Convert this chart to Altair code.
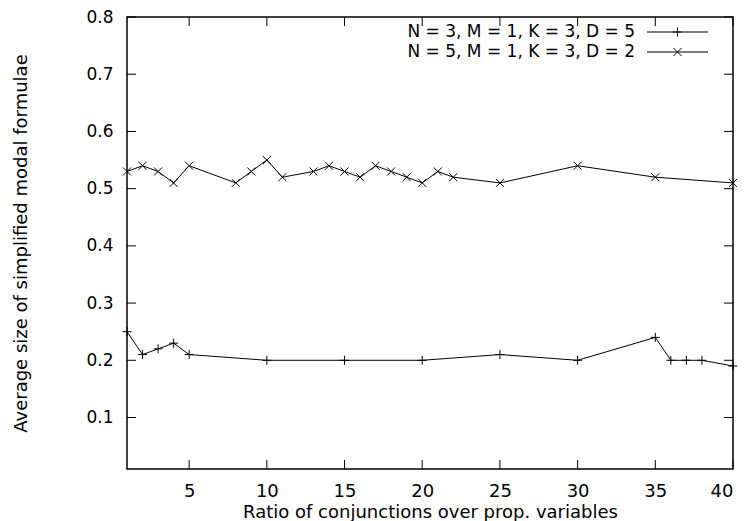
import altair as alt
import pandas as pd

# ---- data ----
s1_label = "N = 3, M = 1, K = 3, D = 5"
s1_x = [1, 2, 3, 4, 5, 10, 15, 20, 25, 30, 35, 36, 37, 38, 40]
s1_y = [0.25, 0.21, 0.22, 0.23, 0.21, 0.20, 0.20, 0.20, 0.21, 0.20, 0.24, 0.20, 0.20, 0.20, 0.19]

s2_label = "N = 5, M = 1, K = 3, D = 2"
s2_x = [1, 2, 3, 4, 5, 8, 9, 10, 11, 13, 14, 15, 16, 17, 18, 19, 20, 21, 22, 25, 30, 35, 40]
s2_y = [0.53, 0.54, 0.53, 0.51, 0.54, 0.51, 0.53, 0.55, 0.52, 0.53, 0.54, 0.53, 0.52, 0.54,
        0.53, 0.52, 0.51, 0.53, 0.52, 0.51, 0.54, 0.52, 0.51]

x_ticks = [5, 10, 15, 20, 25, 30, 35, 40]
y_ticks = [0.1, 0.2, 0.3, 0.4, 0.5, 0.6, 0.7, 0.8]

x_title = "Ratio of conjunctions over prop. variables"
y_title = "Average size of simplified modal formulae"

# ---- layout / style ----
W, H = 606, 452
FONT = "DejaVu Sans"
FS = 18
YFS = 17
LFS = 17
TICK = 9
PLUS = "M-1,0L1,0M0,-1L0,1"
CROSS = "M-1,-1L1,1M-1,1L1,-1"

xs = alt.Scale(domain=[1, 40], nice=False, zero=False)
ys = alt.Scale(domain=[0.01, 0.8], nice=False, zero=False)

x_axis = alt.Axis(values=x_ticks, grid=False, domain=False, ticks=False,
                  labelFont=FONT, labelFontSize=FS, labelColor="black", labelPadding=13,
                  title=x_title, titleFont=FONT, titleFontSize=FS, titleFontWeight="normal",
                  titleColor="black", titleBaseline="alphabetic", titleY=48)
y_axis = alt.Axis(values=y_ticks, grid=False, domain=False, ticks=False, format=".1f",
                  labelFont=FONT, labelFontSize=YFS, labelColor="black", labelPadding=14,
                  title=y_title, titleFont=FONT, titleFontSize=FS, titleFontWeight="normal",
                  titleColor="black", titleBaseline="alphabetic", titleX=-101)

def X(field):
    return alt.X(field, type="quantitative", scale=xs, axis=x_axis)

def Y(field):
    return alt.Y(field, type="quantitative", scale=ys, axis=y_axis)

df1 = pd.DataFrame({"x": s1_x, "y": s1_y})
df2 = pd.DataFrame({"x": s2_x, "y": s2_y})

def series(df, shape, size):
    line = alt.Chart(df).mark_line(color="black", strokeWidth=1).encode(x=X("x"), y=Y("y"))
    pts = alt.Chart(df).mark_point(shape=shape, size=size, filled=False, stroke="black",
                                   strokeWidth=1, opacity=1).encode(x=X("x"), y=Y("y"))
    return [line, pts]

# inward ticks on all four sides (gnuplot style)
ydf = pd.DataFrame({"y": y_ticks})
xdf = pd.DataFrame({"x": x_ticks})
tick_layers = [
    alt.Chart(ydf).mark_rule(color="black", strokeWidth=1).encode(
        y=Y("y"), x=alt.value(0), x2=alt.value(TICK)),
    alt.Chart(ydf).mark_rule(color="black", strokeWidth=1).encode(
        y=Y("y"), x=alt.value(W - TICK), x2=alt.value(W)),
    alt.Chart(xdf).mark_rule(color="black", strokeWidth=1).encode(
        x=X("x"), y=alt.value(H - TICK), y2=alt.value(H)),
    alt.Chart(xdf).mark_rule(color="black", strokeWidth=1).encode(
        x=X("x"), y=alt.value(0), y2=alt.value(TICK)),
]

# legend (top right, inside the plot)
one = pd.DataFrame({"a": [0]})
def legend_entry(label, shape, size, ypos):
    txt = alt.Chart(one).mark_text(align="right", baseline="middle", font=FONT,
                                   fontSize=LFS, color="black").encode(
        x=alt.value(508), y=alt.value(ypos), text=alt.value(label))
    ln = alt.Chart(one).mark_rule(color="black", strokeWidth=1).encode(
        x=alt.value(520), x2=alt.value(581), y=alt.value(ypos))
    pt = alt.Chart(one).mark_point(shape=shape, size=size, filled=False, stroke="black",
                                   strokeWidth=1, opacity=1).encode(
        x=alt.value(550.5), y=alt.value(ypos))
    return [txt, ln, pt]

layers = (series(df1, PLUS, 81) + series(df2, CROSS, 64)
          + tick_layers
          + legend_entry(s1_label, PLUS, 81, 15)
          + legend_entry(s2_label, CROSS, 64, 35))

chart = alt.layer(*layers).properties(
    width=W, height=H,
    autosize=alt.AutoSizeParams(type="none"),
    padding={"left": 119, "top": 9, "right": 5, "bottom": 52},
    background="white",
).configure_view(stroke="black", strokeWidth=1.5)

chart.save("out.html", embed_options={"renderer": "svg", "actions": False})
